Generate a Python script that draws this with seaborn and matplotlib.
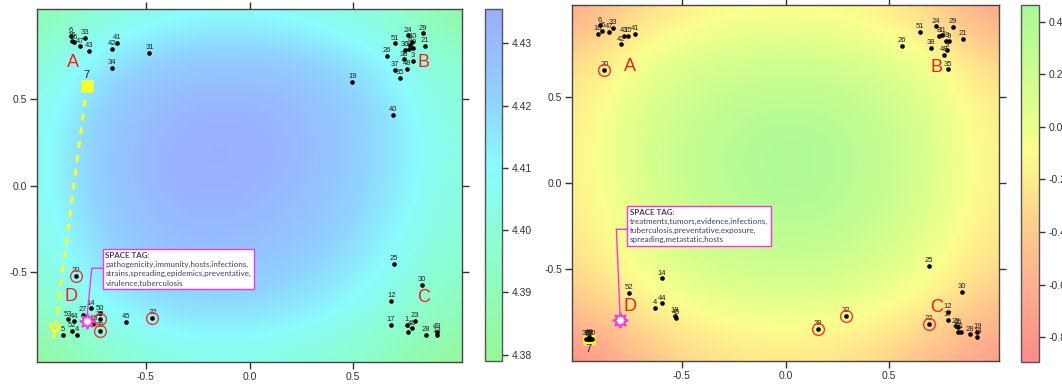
import matplotlib
matplotlib.use('Agg')
import matplotlib.pyplot as plt
import numpy as np
import pandas as pd
import seaborn as sns
from matplotlib.colors import LinearSegmentedColormap

sns.set_style('ticks')
plt.rcParams['font.family'] = ['Liberation Sans', 'DejaVu Sans']

# background surfaces, read on a coarse grid (rows: y=1 -> y=-1, cols: x=-1 -> x=1)
GRID = [-1.0, -0.75, -0.5, -0.25, 0.0, 0.25, 0.5, 0.75, 1.0]
Z_LEFT = [
    [4.385, 4.398, 4.405, 4.408, 4.408, 4.406, 4.402, 4.395, 4.383],
    [4.398, 4.412, 4.420, 4.424, 4.424, 4.422, 4.416, 4.406, 4.395],
    [4.404, 4.420, 4.428, 4.432, 4.432, 4.429, 4.423, 4.412, 4.400],
    [4.406, 4.423, 4.431, 4.434, 4.434, 4.431, 4.424, 4.414, 4.402],
    [4.406, 4.423, 4.431, 4.434, 4.433, 4.430, 4.423, 4.413, 4.401],
    [4.404, 4.420, 4.428, 4.431, 4.430, 4.427, 4.420, 4.410, 4.399],
    [4.400, 4.415, 4.423, 4.426, 4.425, 4.422, 4.415, 4.405, 4.395],
    [4.393, 4.406, 4.414, 4.417, 4.417, 4.414, 4.408, 4.398, 4.389],
    [4.380, 4.392, 4.400, 4.404, 4.404, 4.401, 4.396, 4.388, 4.380],
]
Z_RIGHT = [
    [-0.65, -0.35, -0.20, -0.12, -0.10, -0.12, -0.20, -0.38, -0.70],
    [-0.35, -0.10, 0.05, 0.12, 0.14, 0.12, 0.04, -0.12, -0.38],
    [-0.22, 0.02, 0.18, 0.28, 0.32, 0.30, 0.20, 0.02, -0.22],
    [-0.18, 0.08, 0.25, 0.36, 0.42, 0.38, 0.26, 0.06, -0.18],
    [-0.18, 0.06, 0.24, 0.36, 0.42, 0.38, 0.26, 0.06, -0.18],
    [-0.22, 0.02, 0.20, 0.30, 0.35, 0.32, 0.20, 0.02, -0.22],
    [-0.32, -0.08, 0.08, 0.17, 0.20, 0.18, 0.08, -0.08, -0.32],
    [-0.50, -0.25, -0.10, -0.02, 0.00, -0.02, -0.10, -0.25, -0.50],
    [-0.87, -0.55, -0.35, -0.25, -0.22, -0.25, -0.35, -0.55, -0.75],
]

# left panel points
LEFT_IDS = ['6', '15', '16', '33', '47', '43', '42', '41', '31', '34',
            '24', '29', '21', '51', '26', '8', '10', '36', '11', '9', '38', '48', '3', '37', '35', '19', '40',
            '20', '14', '27', '50', '53', '44', '5', '52', '4', '18', '32', '39', '45', '22',
            '25', '30', '12', '17', '1', '23', '46', '2', '28', '49', '13']
LEFT_X = [-0.862, -0.857, -0.848, -0.795, -0.815, -0.772, -0.664, -0.637, -0.482, -0.663,
          0.764, 0.835, 0.845, 0.701, 0.661, 0.772, 0.785, 0.751, 0.769, 0.790, 0.745, 0.761, 0.786, 0.700, 0.726, 0.495, 0.693,
          -0.838, -0.766, -0.803, -0.721, -0.873, -0.846, -0.901, -0.856, -0.830, -0.753, -0.721, -0.721, -0.593, -0.468,
          0.697, 0.832, 0.684, 0.680, 0.758, 0.796, 0.784, 0.766, 0.851, 0.902, 0.902]
LEFT_Y = [0.867, 0.840, 0.831, 0.857, 0.807, 0.780, 0.792, 0.828, 0.769, 0.683,
          0.871, 0.883, 0.811, 0.825, 0.753, 0.815, 0.832, 0.786, 0.790, 0.800, 0.732, 0.678, 0.722, 0.670, 0.625, 0.602, 0.409,
          -0.525, -0.712, -0.751, -0.741, -0.776, -0.788, -0.867, -0.842, -0.867, -0.803, -0.776, -0.842, -0.792, -0.767,
          -0.455, -0.577, -0.670, -0.809, -0.809, -0.786, -0.828, -0.848, -0.865, -0.848, -0.870]
LEFT_SEVEN = [-0.784, 0.577]
LEFT_ARROW_TIP = [-0.943, -0.886]
LEFT_STAR = [-0.785, -0.786]
LEFT_TAG_LINE = [[-0.785, -0.760, -0.704], [-0.786, -0.480, -0.480]]
LEFT_TAG_POS = [-0.694, -0.386]
LEFT_TAG = 'pathogenicity,immunity,hosts,infections,\nstrains,spreading,epidemics,preventative,\nvirulence,tuberculosis'
LEFT_LETTERS = {'A': (-0.849, 0.711), 'B': (0.840, 0.712), 'C': (0.837, -0.649), 'D': (-0.862, -0.645)}

# right panel points
RIGHT_IDS = ['6', '16', '5', '47', '33', '43', '15', '41', '42', '20',
             '51', '24', '29', '21', '26', '38', '48', '35', '8', '11', '10', '9', '3',
             '14', '52', '44', '4', '18', '45', '49', '27', '34', '53', '50', '31',
             '25', '30', '12', '17', '22', '32', '39', '23', '46', '1', '40', '28', '19', '13']
RIGHT_X = [-0.897, -0.905, -0.883, -0.850, -0.831, -0.778, -0.762, -0.725, -0.792, -0.874,
           0.647, 0.725, 0.807, 0.857, 0.562, 0.702, 0.763, 0.784, 0.741, 0.757, 0.773, 0.789, 0.779,
           -0.597, -0.754, -0.594, -0.628, -0.533, -0.527, -0.948, -0.952, -0.962, -0.945, -0.935, -0.947,
           0.692, 0.852, 0.783, 0.785, 0.691, 0.290, 0.156, 0.821, 0.832, 0.845, 0.830, 0.889, 0.926, 0.926]
RIGHT_Y = [0.913, 0.865, 0.880, 0.874, 0.896, 0.851, 0.850, 0.865, 0.803, 0.653,
           0.874, 0.906, 0.902, 0.836, 0.793, 0.782, 0.741, 0.657, 0.851, 0.855, 0.822, 0.820, 0.767,
           -0.552, -0.635, -0.697, -0.722, -0.770, -0.779, -0.893, -0.900, -0.903, -0.902, -0.901, -0.905,
           -0.481, -0.631, -0.747, -0.793, -0.814, -0.770, -0.843, -0.830, -0.835, -0.860, -0.862, -0.876, -0.863, -0.889]
RIGHT_SEVEN = [-0.950, -0.901]
RIGHT_STAR = [-0.797, -0.793]
RIGHT_TAG_LINE = [[-0.797, -0.816, -0.762], [-0.793, -0.268, -0.268]]
RIGHT_TAG_POS = [-0.751, -0.149]
RIGHT_TAG = 'treatments,tumors,evidence,infections,\ntuberculosis,preventative,exposure,\nspreading,metastatic,hosts'
RIGHT_LETTERS = {'A': (-0.750, 0.677), 'B': (0.728, 0.668), 'C': (0.728, -0.722), 'D': (-0.750, -0.716)}

CIRCLED = ['20', '22', '32', '39']

cmap_left = LinearSegmentedColormap.from_list(
    'gcb', [(0.0, '#96F896'), (0.35, '#8CFFD6'), (0.55, '#8AFCFC'), (0.75, '#90D2FF'), (1.0, '#9CACFF')])
cmap_right = LinearSegmentedColormap.from_list(
    'ryg', [(0.0, '#FF8A8A'), (0.22, '#FFB08E'), (0.37, '#FFCC8C'), (0.52, '#FFEE8C'),
            (0.6, '#FAFF8C'), (0.75, '#D8FF8C'), (1.0, '#A8FA98')])

MAGENTA = '#FF33DD'
YELLOW = '#FFFF22'
TAG_FONT = ['Lato', 'DejaVu Sans']


def style_axes(ax, lim):
    ax.set_xlim(-lim, lim)
    ax.set_ylim(-lim, lim)
    ax.set_xticks([-0.5, 0.0, 0.5])
    ax.set_yticks([-0.5, 0.0, 0.5])
    ax.set_xticklabels(['-0.5', '0.0', '0.5'])
    ax.set_yticklabels(['-0.5', '0.0', '0.5'])
    ax.tick_params(direction='out', top=True, right=True, labeltop=False, labelright=False,
                   length=5, width=1, color='#333333', labelsize=7.5, labelcolor='#333333', pad=2)
    for s in ax.spines.values():
        s.set_color('#444444')
        s.set_linewidth(1)
    ax.set_xlabel('')
    ax.set_ylabel('')


def draw_panel(ax, cax, z, cmap, vmin, vmax, cticks, cfmt, ids, xs, ys, letters,
               star, tag_line, tag_pos, tag_text, lim):
    im = ax.imshow(np.array(z), extent=[-1.125, 1.125, -1.125, 1.125], origin='upper',
                   cmap=cmap, vmin=vmin, vmax=vmax, interpolation='bicubic', aspect='auto', zorder=0)
    df = pd.DataFrame({'id': ids, 'x': xs, 'y': ys})
    sns.scatterplot(data=df, x='x', y='y', color='black', s=11, linewidth=0, ax=ax,
                    legend=False, zorder=5)
    for _, r in df.iterrows():
        ax.annotate(r['id'], (r['x'], r['y']), xytext=(0, 1.2), textcoords='offset points',
                    ha='center', va='bottom', fontsize=5.5, color='#222222', zorder=6)
    circ = df[df['id'].isin(CIRCLED)]
    ax.plot(circ['x'], circ['y'], 'o', ms=8.5, mfc='none', mec='#FF3030', mew=1.0, zorder=6)
    for k, (lx, ly) in letters.items():
        ax.text(lx, ly, k, color='#FF1A1A', fontsize=13, ha='center', va='center', zorder=7)
    # space tag
    ax.plot(tag_line[0], tag_line[1], color=MAGENTA, lw=1, zorder=7)
    ax.plot([star[0]], [star[1]], marker=(8, 1, 0), ms=11, mfc='white', mec=MAGENTA, mew=1.3, zorder=8)
    ax.text(tag_pos[0], tag_pos[1], ' \n' + tag_text, fontsize=5.8, color='#4A3A6A', linespacing=1.35,
            ha='left', va='top', family=TAG_FONT, zorder=9,
            bbox=dict(boxstyle='square,pad=0.35', fc='white', ec=MAGENTA, lw=1))
    ax.text(tag_pos[0], tag_pos[1], 'SPACE TAG:', fontsize=5.8, fontweight='bold', color='#4A3A6A',
            ha='left', va='top', family=TAG_FONT, zorder=10)
    style_axes(ax, lim)
    cb = plt.colorbar(im, cax=cax)
    cb.set_ticks(cticks)
    cb.set_ticklabels([cfmt % t for t in cticks])
    cb.outline.set_edgecolor('#555555')
    cb.outline.set_linewidth(1)
    cax.tick_params(direction='out', length=4, width=1, color='#333333', labelsize=7.5,
                    labelcolor='#333333', pad=3)
    return im


fig = plt.figure(figsize=(10.62, 3.85), dpi=100)
ax1 = fig.add_axes([37 / 1062, 23 / 385, 425 / 1062, 353 / 385])
cax1 = fig.add_axes([485 / 1062, 24 / 385, 17 / 1062, 352 / 385])
ax2 = fig.add_axes([572 / 1062, 24 / 385, 427 / 1062, 356 / 385])
cax2 = fig.add_axes([1021 / 1062, 23 / 385, 18 / 1062, 357 / 385])

draw_panel(ax1, cax1, Z_LEFT, cmap_left, 4.379, 4.4355, [4.38, 4.39, 4.40, 4.41, 4.42, 4.43], '%.2f',
           LEFT_IDS, LEFT_X, LEFT_Y, LEFT_LETTERS, LEFT_STAR, LEFT_TAG_LINE, LEFT_TAG_POS, LEFT_TAG, 1.024)
draw_panel(ax2, cax2, Z_RIGHT, cmap_right, -0.895, 0.464, [-0.8, -0.6, -0.4, -0.2, 0.0, 0.2, 0.4], '%.1f',
           RIGHT_IDS, RIGHT_X, RIGHT_Y, RIGHT_LETTERS, RIGHT_STAR, RIGHT_TAG_LINE, RIGHT_TAG_POS, RIGHT_TAG, 1.03)

# left panel: item 7 moved with a dashed yellow arrow
ax1.plot([LEFT_SEVEN[0], LEFT_ARROW_TIP[0]], [LEFT_SEVEN[1], LEFT_ARROW_TIP[1]],
         ls=(0, (2.5, 2.5)), color=YELLOW, lw=2, zorder=4)
dx = LEFT_SEVEN[0] - LEFT_ARROW_TIP[0]
dy = LEFT_SEVEN[1] - LEFT_ARROW_TIP[1]
n = np.hypot(dx, dy)
ax1.annotate('', xy=LEFT_ARROW_TIP, xytext=(LEFT_ARROW_TIP[0] + 0.06 * dx / n, LEFT_ARROW_TIP[1] + 0.06 * dy / n),
             arrowprops=dict(arrowstyle='->,head_length=0.6,head_width=0.4', color=YELLOW, lw=2), zorder=4)
ax1.plot([LEFT_SEVEN[0]], [LEFT_SEVEN[1]], 's', ms=8, color=YELLOW, mec='none', zorder=5)
ax1.annotate('7', LEFT_SEVEN, xytext=(0, 4), textcoords='offset points', ha='center', va='bottom',
             fontsize=8, color='#222222', zorder=6)

# right panel: item 7 sits in the bottom-left cluster
ax2.plot([RIGHT_SEVEN[0]], [RIGHT_SEVEN[1]], 's', ms=8, color=YELLOW, mec='none', zorder=4)
ax2.annotate('7', RIGHT_SEVEN, xytext=(0, -4), textcoords='offset points', ha='center', va='top',
             fontsize=8, color='#222222', zorder=6)

fig.savefig('out.png', dpi=100)
plt.close(fig)
